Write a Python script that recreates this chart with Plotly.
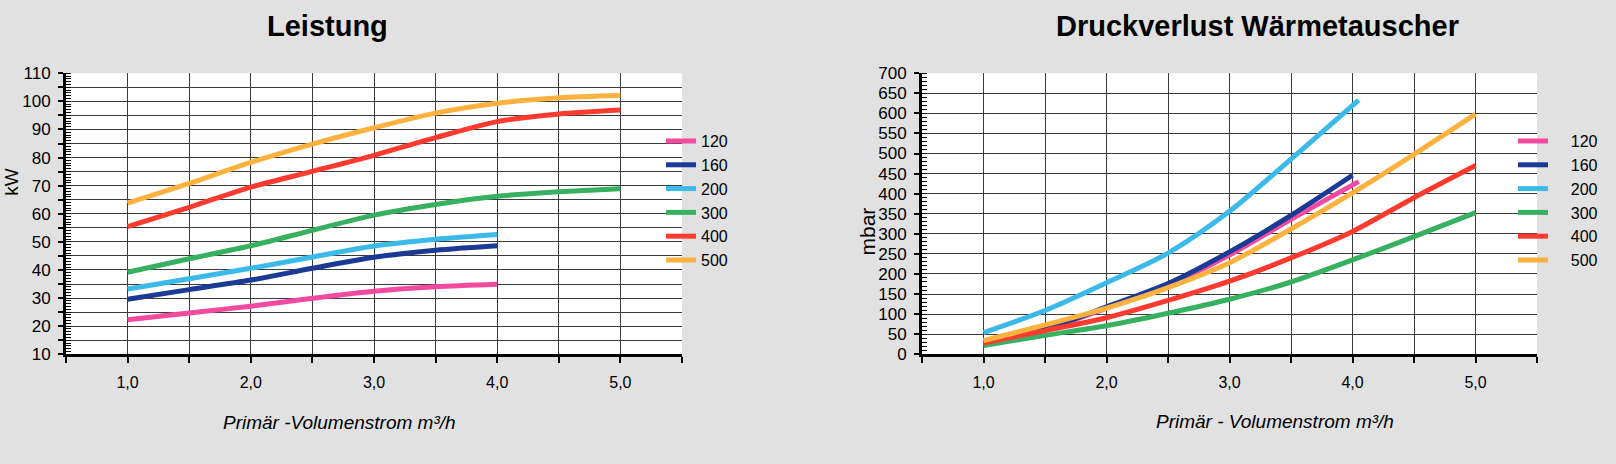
import plotly.graph_objects as go

# Primär-Volumenstrom m³/h
flow_x = [1.0, 1.5, 2.0, 2.5, 3.0, 3.5, 4.0, 4.5, 5.0]
flow_x_short = [1.0, 1.5, 2.0, 2.5, 3.0, 3.5, 4.0]
flow_x_p = [1.0, 1.5, 2.0, 2.5, 3.0, 3.5, 4.05]

series_names = ["120", "160", "200", "300", "400", "500"]
series_colors = ["#f24a9f", "#1b3a96", "#3bbaea", "#37b160", "#ff3b2f", "#fdb23f"]

# Leistung kW
kw_120 = [22.3, 24.7, 27.1, 29.9, 32.4, 34.0, 34.9]
kw_160 = [29.6, 33.0, 36.4, 40.6, 44.5, 47.0, 48.6]
kw_200 = [33.2, 36.9, 40.6, 44.6, 48.5, 50.9, 52.6]
kw_300 = [39.2, 44.0, 48.6, 54.1, 59.5, 63.3, 66.2, 67.8, 68.9]
kw_400 = [55.4, 62.3, 69.5, 75.1, 80.8, 87.1, 92.8, 95.5, 96.9]
kw_500 = [63.8, 70.8, 78.3, 84.8, 90.6, 95.8, 99.3, 101.3, 102.1]

# Druckverlust mbar
mbar_120 = [28, 62, 115, 172, 247, 336, 430]
mbar_160 = [28, 62, 118, 176, 255, 346, 446]
mbar_200 = [54, 109, 178, 252, 356, 486, 633]
mbar_300 = [22, 47, 71, 102, 137, 180, 235, 293, 353]
mbar_400 = [28, 59, 91, 134, 182, 240, 306, 390, 470]
mbar_500 = [34, 73, 115, 166, 228, 312, 402, 498, 598]

flow_ticks = [0.5, 1.0, 1.5, 2.0, 2.5, 3.0, 3.5, 4.0, 4.5, 5.0, 5.5]
flow_labels = ["", "1,0", "", "2,0", "", "3,0", "", "4,0", "", "5,0", ""]
kw_ticks = [10, 15, 20, 25, 30, 35, 40, 45, 50, 55, 60, 65, 70, 75, 80, 85, 90, 95, 100, 105, 110]
kw_labels = ["10", "", "20", "", "30", "", "40", "", "50", "", "60", "", "70", "", "80", "", "90", "", "100", "", "110"]
mbar_ticks = [0, 50, 100, 150, 200, 250, 300, 350, 400, 450, 500, 550, 600, 650, 700]


def main() -> None:
    fig = go.Figure()

    kw_data = [(flow_x_short, kw_120), (flow_x_short, kw_160), (flow_x_short, kw_200),
               (flow_x, kw_300), (flow_x, kw_400), (flow_x, kw_500)]
    mbar_data = [(flow_x_p, mbar_120), (flow_x_short, mbar_160), (flow_x_p, mbar_200),
                 (flow_x, mbar_300), (flow_x, mbar_400), (flow_x, mbar_500)]

    for i, (xs, ys) in enumerate(kw_data):
        fig.add_trace(go.Scatter(x=xs, y=ys, name=series_names[i], mode="lines",
                                 line=dict(color=series_colors[i], width=5, shape="spline", smoothing=0.8),
                                 xaxis="x", yaxis="y", legend="legend", legendgroup="a" + series_names[i]))
    # rechte Legende hat mehr Abstand zwischen Linie und Text
    for i, (xs, ys) in enumerate(mbar_data):
        fig.add_trace(go.Scatter(x=xs, y=ys, name="\u00a0" * 4 + series_names[i], mode="lines",
                                 line=dict(color=series_colors[i], width=5, shape="spline", smoothing=0.8),
                                 xaxis="x2", yaxis="y2", legend="legend2", legendgroup="b" + series_names[i]))

    grid = "#3a3a3a"
    xcommon = dict(range=[0.5, 5.5], tickmode="array", tickvals=flow_ticks, ticktext=flow_labels,
                   showgrid=True, gridcolor=grid, gridwidth=1, showline=True, linecolor="black",
                   linewidth=3, ticks="outside", ticklen=6, tickwidth=2, tickcolor="black",
                   tickfont=dict(size=16, color="black"), ticklabelstandoff=6, zeroline=False)
    ycommon = dict(showgrid=True, gridcolor=grid, gridwidth=1, showline=True, linecolor="black",
                   linewidth=3, ticks="outside", ticklen=5, tickwidth=2, tickcolor="black",
                   tickfont=dict(size=17, color="black"), ticklabelstandoff=4, zeroline=False,
                   tickmode="array")

    fig.update_layout(
        width=1616, height=464,
        margin=dict(l=0, r=0, t=0, b=0),
        paper_bgcolor="#e1e1e1", plot_bgcolor="white",
        font=dict(family="Liberation Sans, Arial, sans-serif", color="black"),
        xaxis=dict(domain=[66 / 1616, 682 / 1616], anchor="y", **xcommon),
        xaxis2=dict(domain=[922 / 1616, 1537 / 1616], anchor="y2", **xcommon),
        yaxis=dict(domain=[104 / 464, 397 / 464], anchor="x", range=[10, 110],
                   tickvals=kw_ticks, ticktext=kw_labels,
                   minor=dict(dtick=1, ticks="inside", ticklen=5, tickwidth=1, tickcolor="black"),
                   **ycommon),
        yaxis2=dict(domain=[104 / 464, 397 / 464], anchor="x2", range=[0, 700],
                    tickvals=mbar_ticks, ticktext=[str(v) for v in mbar_ticks],
                    minor=dict(dtick=10, ticks="inside", ticklen=5, tickwidth=1, tickcolor="black"),
                    **ycommon),
        legend=dict(x=661 / 1616, xanchor="left", y=1 - 120 / 464, yanchor="top",
                    bgcolor="rgba(0,0,0,0)", font=dict(size=16), tracegroupgap=0,
                    itemwidth=30),
        legend2=dict(x=1513 / 1616, xanchor="left", y=1 - 120 / 464, yanchor="top",
                     bgcolor="rgba(0,0,0,0)", font=dict(size=16), tracegroupgap=0,
                     itemwidth=30),
    )

    # titles and axis titles
    ann = dict(xref="paper", yref="paper", showarrow=False, xanchor="center", yanchor="middle")
    fig.add_annotation(text="<b>Leistung</b>", x=327 / 1616, y=1 - 18 / 464, font=dict(size=29), **ann)
    fig.add_annotation(text="<b>Druckverlust Wärmetauscher</b>", x=1257 / 1616, y=1 - 18 / 464,
                       font=dict(size=29), **ann)
    fig.add_annotation(text="<i>Primär -Volumenstrom m³/h</i>", x=339 / 1616, y=1 - 431 / 464,
                       font=dict(size=19), **ann)
    fig.add_annotation(text="<i>Primär - Volumenstrom m³/h</i>", x=1275 / 1616, y=1 - 430 / 464,
                       font=dict(size=19), **ann)
    fig.add_annotation(text="kW", x=12 / 1616, y=1 - 180 / 464, textangle=-90, font=dict(size=19), **ann)
    fig.add_annotation(text="mbar", x=867 / 1616, y=1 - 232 / 464, textangle=-90, font=dict(size=21), **ann)

    fig.write_html("out.html", config={"displayModeBar": False},
                   post_script="document.body.style.margin='0';")


if __name__ == "__main__":
    main()
